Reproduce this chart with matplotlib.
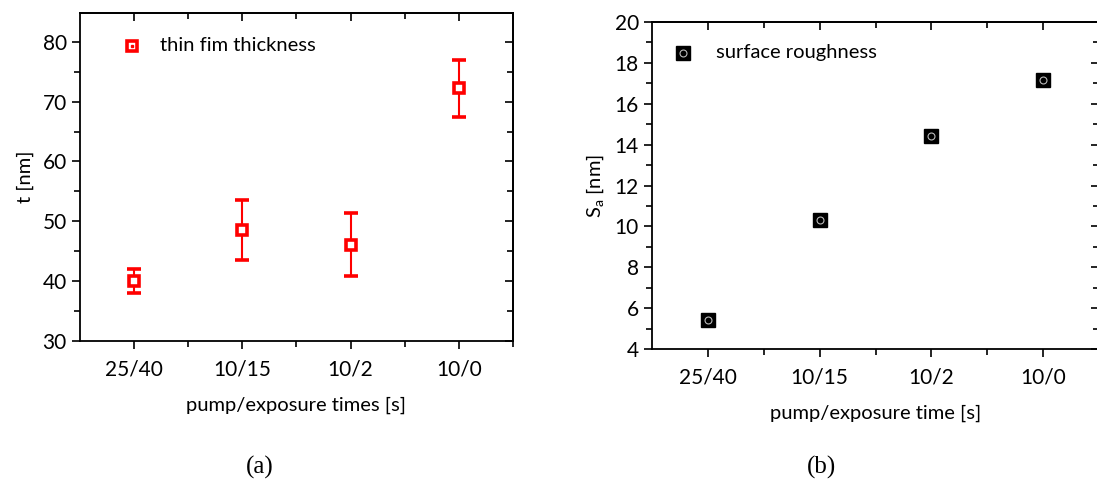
import matplotlib
matplotlib.use("Agg")
import numpy as np
from matplotlib import pyplot as plt

# data
times = ["25/40", "10/15", "10/2", "10/0"]
thickness = [40.0, 48.6, 46.1, 72.2]
thickness_err = [2.0, 5.0, 5.3, 4.75]
roughness = [5.4, 10.3, 14.4, 17.15]

plt.rcParams['font.family'] = ['Lato', 'DejaVu Sans']

def style_axes(ax, xmaj, xmin, ymaj, ymin):
   for s in ax.spines.values():
      s.set_linewidth(1.3)
   ax.set_xticks(xmaj)
   ax.set_xticks(xmin, minor=True)
   ax.set_yticks(ymaj)
   ax.set_yticks(ymin, minor=True)
   ax.tick_params(which='both', direction='out', width=1.2, labelsize=15)
   ax.tick_params(which='major', length=6)
   ax.tick_params(which='minor', length=4)
   # mirrored ticks pointing inward on top and right
   top = ax.secondary_xaxis('top')
   top.set_xticks(xmaj)
   top.set_xticks(xmin, minor=True)
   top.tick_params(which='both', direction='in', width=1.2, labeltop=False)
   top.tick_params(which='major', length=6)
   top.tick_params(which='minor', length=4)
   right = ax.secondary_yaxis('right')
   right.set_yticks(ymaj)
   right.set_yticks(ymin, minor=True)
   right.tick_params(which='both', direction='in', width=1.2, labelright=False)
   right.tick_params(which='major', length=6)
   right.tick_params(which='minor', length=4)
   top.spines['top'].set_linewidth(1.3)
   right.spines['right'].set_linewidth(1.3)

fig = plt.figure(figsize=(10.97, 4.88), dpi=100)

# (a)
x = np.arange(1, len(times) + 1)
ax1 = fig.add_axes([0.0729, 0.3012, 0.3947, 0.672])
ax1.errorbar(x, thickness, yerr=thickness_err, fmt='s', color='red', mfc='white',
             mec='red', mew=2.6, ms=7.5, ecolor='red', elinewidth=1.5, capsize=5, capthick=1.5)
ax1.plot(x, thickness, 's', color='red', ms=2, ls='none')
ax1.set_xlim(0.5, 4.5)
ax1.set_ylim(30, 84.8)
style_axes(ax1, x, [1.5, 2.5, 3.5, 4.5], range(30, 81, 10), range(35, 85, 10))
ax1.set_xticklabels(times)
ax1.tick_params(axis='x', pad=7)
ax1.set_xlabel("pump/exposure times [s]", fontsize=14.5, labelpad=13)
ax1.set_ylabel("t [nm]", fontsize=14.5, labelpad=6)
ax1.plot([0.98], [79.3], 's', color='red', mfc='white', mec='red', mew=2.6, ms=7.5)
ax1.plot([0.98], [79.3], 's', color='red', ms=2)
ax1.text(1.24, 79.3, "thin fim thickness", fontsize=14.5, va='center', ha='left')
fig.text(0.237, 0.043, "(a)", fontsize=18, family='Liberation Serif', ha='center', va='center')

# (b)
ax2 = fig.add_axes([0.5944, 0.2848, 0.4075, 0.670])
def rough_marker(ax, xs, ys):
   ax.plot(xs, ys, 's', color='black', ms=9.5, ls='none')
   ax.plot(xs, ys, 'o', mfc='none', mec='#bbbbbb', mew=0.8, ms=5, ls='none')
   ax.plot(xs, ys, 'o', color='black', ms=2, ls='none')
rough_marker(ax2, x, roughness)
ax2.set_xlim(0.5, 4.5)
ax2.set_ylim(4, 20)
style_axes(ax2, x, [1.5, 2.5, 3.5, 4.5], range(4, 21, 2), np.arange(5, 20, 2))
ax2.set_xticklabels(times)
ax2.tick_params(axis='x', pad=7)
ax2.set_xlabel("pump/exposure time [s]", fontsize=14.5, labelpad=13)
ax2.set_ylabel("S$_\\mathregular{a}$ [nm]", fontsize=14.5, labelpad=6)
rough_marker(ax2, [0.777], [18.5])
ax2.text(1.07, 18.5, "surface roughness", fontsize=14.5, va='center', ha='left')
fig.text(0.749, 0.043, "(b)", fontsize=18, family='Liberation Serif', ha='center', va='center')

fig.savefig("out.png", dpi=100)
